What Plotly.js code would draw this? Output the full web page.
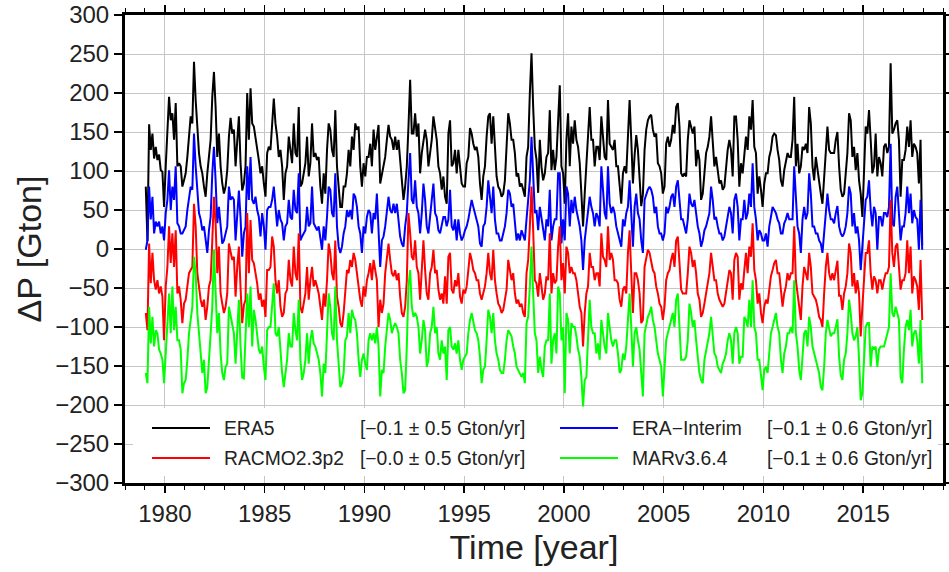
<!DOCTYPE html>
<html>
<head>
<meta charset="utf-8">
<script src="https://cdn.plot.ly/plotly-3.0.1.min.js"></script>
<style>html,body{margin:0;padding:0;background:#fff;}#chart{width:949px;height:572px;}</style>
</head>
<body>
<div id="chart"></div>
<script>
// ---- data (monthly ΔP in Gton, Jan 1979 .. Dec 2017) ----
const startYear = 1979;
const seriesNames = ["ERA5", "ERA−Interim", "RACMO2.3p2", "MARv3.6.4"];
const trendLabels = ["[−0.1 ± 0.5 Gton/yr]", "[−0.1 ± 0.6 Gton/yr]", "[−0.0 ± 0.5 Gton/yr]", "[−0.1 ± 0.6 Gton/yr]"];
const xTickLabels = ["1980", "1985", "1990", "1995", "2000", "2005", "2010", "2015"];

const era5 = [
80,10,160,127,148,116,131,114,121,101,99,54,
106,150,195,165,174,140,187,106,110,106,80,88,
97,118,148,170,161,240,191,157,123,106,97,80,
67,97,118,140,195,227,182,118,148,106,84,71,
80,101,144,168,148,153,106,140,170,110,75,84,
106,200,140,206,161,157,144,131,114,97,106,84,
67,123,131,127,157,193,161,144,118,127,106,63,
97,106,144,127,110,161,123,118,182,80,84,97,
110,144,93,110,161,118,123,114,118,80,58,97,
71,127,161,153,127,118,178,106,76,54,54,80,
80,97,127,106,144,127,161,153,157,106,80,110,
93,118,118,135,106,153,127,144,159,84,97,106,
118,140,159,144,140,127,144,127,140,114,88,63,
80,106,157,217,148,148,174,144,161,97,123,140,
153,140,106,123,140,170,153,140,106,97,76,93,
67,58,148,165,106,110,127,97,127,106,84,80,
80,110,118,155,148,135,127,131,118,84,63,93,
106,144,170,174,135,170,127,93,80,76,67,71,
88,140,174,161,140,140,123,93,97,80,84,76,
67,118,131,200,251,182,130,115,72,140,105,88,
97,118,123,178,101,127,101,118,170,210,106,97,
58,140,174,106,157,135,165,140,131,110,71,29,
71,106,131,182,140,140,106,131,131,114,170,140,
118,114,191,135,131,127,140,106,106,80,58,97,
106,97,144,191,140,84,120,146,127,97,55,70,
127,153,165,170,172,153,144,148,110,106,97,71,
80,135,144,131,140,159,148,182,187,157,97,93,
97,93,140,165,157,148,157,106,127,114,63,71,
97,123,131,144,170,140,106,118,97,84,88,76,
80,106,127,140,127,93,170,170,140,80,110,97,
118,144,127,170,153,191,131,123,71,93,76,54,
84,97,97,118,127,144,148,146,127,114,88,80,
101,114,123,118,118,140,195,106,135,97,106,131,
127,135,123,182,161,106,88,118,101,88,71,58,
88,123,157,127,123,123,123,140,150,106,76,67,
71,97,123,174,165,118,131,101,123,88,71,41,
93,157,148,178,140,97,106,148,93,118,110,93,
131,135,123,131,238,148,153,161,165,140,67,114,
114,127,157,131,165,118,135,131,123,84,140,5
];

const eraInterim = [
-1,11,80,38,67,20,35,29,35,20,29,11,
46,63,101,50,80,63,106,33,29,20,20,24,
29,50,67,80,76,148,106,80,46,38,24,29,
11,-5,24,41,97,131,88,33,54,29,7,11,
20,29,80,63,67,63,11,38,75,40,-10,20,
29,106,63,118,63,58,67,50,41,16,46,29,
-1,50,54,54,63,80,54,29,50,38,33,11,
29,33,63,41,38,76,50,46,97,11,16,20,
24,54,29,33,80,33,29,24,29,11,-1,29,
11,41,80,76,46,41,97,29,3,-5,3,20,
29,50,41,50,38,71,67,54,29,20,-5,29,
20,41,50,46,20,46,38,71,29,-23,11,16,
29,50,67,50,46,58,46,58,38,16,7,3,
29,46,88,123,63,58,88,54,46,20,46,84,
63,29,20,46,63,84,46,41,24,20,29,41,
41,29,38,76,29,24,38,11,38,20,11,16,
24,29,38,54,63,54,46,38,29,7,3,29,
33,54,88,67,46,80,38,20,20,11,11,20,
29,46,76,71,54,58,38,11,20,11,24,16,
11,38,63,88,144,97,46,50,24,54,38,29,
11,38,29,76,11,29,38,38,97,97,7,38,
11,80,71,29,63,46,67,50,38,29,11,-27,
11,29,50,67,54,46,29,46,41,29,106,71,
46,38,106,58,46,54,46,29,20,11,3,38,
29,46,54,88,46,3,54,71,46,38,11,-5,
63,71,76,80,76,67,46,54,29,20,20,11,
20,54,46,54,67,71,54,80,88,63,38,38,
29,20,38,71,58,54,63,46,29,20,3,11,
24,29,38,46,80,63,38,41,29,20,20,11,
16,29,38,54,46,20,63,71,54,11,38,38,
63,38,46,71,54,110,54,38,11,24,20,11,
11,20,3,29,41,54,50,46,38,33,20,20,
33,38,46,38,38,38,106,63,29,20,-5,38,
54,38,46,97,71,29,29,20,20,11,7,-5,
20,46,71,50,38,38,33,46,55,29,20,16,
20,29,46,80,71,29,46,20,29,11,-27,3,
29,63,67,88,50,29,54,46,-1,41,41,29,
46,46,41,54,135,33,29,67,80,41,11,29,
29,46,80,46,71,33,50,41,38,-1,63,-1
];

const racmo = [
-82,-104,7,-44,-5,-40,-52,-40,-57,-48,-61,-117,
-48,-23,29,-18,20,-23,24,-57,-48,-65,-95,-70,
-65,-48,-31,-27,-23,58,29,-31,-48,-65,-74,-65,
-91,-74,-48,-40,11,67,33,-31,3,-57,-70,-82,
-74,-57,7,-5,-14,-10,-61,-23,3,-50,-95,-72,
-65,46,-31,37,-14,-18,-31,-44,-65,-57,-74,-65,
-87,-27,-27,-23,16,3,-40,-57,-40,-74,-87,-82,
-57,-52,-14,-40,-48,3,-31,-40,20,-74,-82,-70,
-57,-23,-65,-40,-23,-48,-40,-48,-57,-74,-91,-57,
-74,-40,7,-5,-31,-40,11,-61,-74,-95,-100,-82,
-48,-27,-31,-14,-23,-5,-14,-31,-48,-65,-74,-48,
-61,-40,-31,-18,-40,-14,-27,-40,-100,-65,-82,-70,
-31,-10,7,-14,-31,-35,-27,-40,-31,-61,-82,-87,
-74,-40,46,20,-10,-14,11,-23,-31,-65,-31,11,
-27,-57,-65,-31,-23,-1,-31,-27,-52,-65,-57,-70,
-35,-70,-10,-5,-52,-57,-40,-48,-31,-61,-70,-52,
-57,-48,-27,-5,-14,-27,-31,-40,-40,-57,-65,-57,
-48,-31,-5,-31,-40,-1,-40,-57,-70,-74,-82,-78,
-65,-52,-14,-27,-40,-31,-57,-70,-65,-74,-70,-82,
-87,-31,-14,29,80,24,-40,-44,-61,-31,-48,-65,
-57,-35,-40,20,-57,-31,-44,-40,3,29,-40,-18,
-57,3,-5,-31,-23,-31,-31,-40,-57,-74,-82,-125,
-82,-57,-48,-5,-23,-23,-40,-31,-31,-48,20,-10,
-14,-23,29,-14,-5,-14,-40,-40,-44,-65,-74,-52,
-48,-57,-5,24,-31,-82,-31,-31,-40,-57,-95,-91,
-23,-10,-1,-5,-14,-27,-31,-48,-57,-70,-74,-91,
-74,-40,-31,-27,-14,-5,-23,11,16,-23,-52,-57,
-57,-57,-31,3,-5,-23,-14,-31,-57,-65,-87,-82,
-70,-57,-48,-31,-5,-23,-40,-40,-57,-65,-70,-74,
-70,-57,-40,-27,-31,-65,-14,-5,-10,-65,-44,-52,
-27,-5,-31,3,-10,33,-27,-40,-70,-57,-82,-95,
-74,-65,-70,-48,-35,-27,-18,-14,-31,-31,-57,-74,
-57,-48,-31,-40,-31,-31,29,-40,-57,-74,-91,-48,
-23,-31,-40,-5,-23,-57,-61,-65,-74,-87,-91,-100,
-57,-23,-5,-31,-40,-31,-40,-27,-15,-60,-60,-78,
-57,-48,-31,7,-5,-48,-31,-57,-40,-57,-112,-74,
-31,-5,-5,11,-31,-52,-35,-40,-57,-40,-40,-52,
-40,-31,-31,-23,63,-5,-23,3,7,-31,-52,-40,
-40,-31,11,-31,3,-57,-35,-40,-48,-78,-14,-91
];

const mar = [
-159,-172,-74,-121,-87,-125,-104,-108,-129,-134,-142,-172,
-134,-100,-57,-108,-48,-104,-74,-117,-117,-129,-185,-172,
-168,-142,-108,-91,-74,-10,-31,-82,-108,-142,-159,-142,
-185,-177,-142,-117,-74,-1,-48,-108,-82,-134,-159,-168,
-151,-147,-74,-87,-100,-108,-147,-100,-65,-125,-165,-166,
-108,-57,-100,-48,-125,-78,-91,-108,-129,-134,-125,-151,
-168,-104,-100,-100,-65,-44,-108,-112,-100,-134,-159,-177,
-155,-142,-108,-125,-125,-82,-104,-117,-65,-142,-168,-159,
-142,-108,-147,-117,-104,-121,-125,-134,-142,-159,-189,-147,
-159,-108,-57,-74,-108,-117,-48,-117,-142,-177,-172,-159,
-117,-112,-82,-108,-78,-87,-91,-108,-142,-164,-142,-134,
-147,-155,-117,-108,-117,-108,-121,-100,-125,-189,-155,-159,
-125,-100,-82,-91,-108,-100,-95,-100,-108,-142,-159,-185,
-181,-125,-48,-27,-74,-87,-82,-87,-100,-134,-117,-91,
-104,-151,-142,-108,-100,-74,-108,-100,-134,-142,-117,-134,
-125,-168,-104,-100,-125,-129,-121,-134,-117,-142,-155,-142,
-138,-134,-108,-91,-82,-95,-104,-108,-117,-138,-172,-155,
-151,-117,-78,-87,-108,-82,-117,-134,-142,-155,-159,-159,
-142,-117,-104,-108,-112,-125,-134,-151,-155,-159,-164,-159,
-172,-95,-87,-48,3,-57,-108,-117,-159,-138,-155,-164,
-125,-117,-117,-57,-147,-117,-108,-134,-48,-57,-117,-100,
-185,-82,-91,-134,-95,-100,-100,-112,-129,-138,-164,-202,
-168,-164,-108,-65,-100,-108,-108,-134,-121,-142,-91,-108,
-125,-134,-82,-100,-117,-125,-117,-117,-134,-159,-155,-134,
-142,-125,-82,-57,-100,-151,-108,-100,-117,-129,-159,-189,
-108,-95,-87,-82,-74,-91,-100,-117,-134,-142,-151,-189,
-159,-117,-108,-100,-91,-82,-100,-65,-57,-104,-142,-142,
-142,-138,-117,-70,-82,-100,-91,-117,-138,-159,-168,-172,
-142,-129,-117,-108,-87,-108,-134,-138,-151,-155,-159,-147,
-142,-134,-117,-108,-117,-147,-108,-100,-108,-147,-138,-138,
-87,-91,-100,-65,-100,-40,-100,-108,-142,-142,-159,-181,
-155,-151,-159,-134,-108,-100,-91,-82,-100,-108,-142,-159,
-134,-125,-108,-108,-100,-108,-40,-108,-125,-155,-168,-134,
-108,-104,-125,-87,-100,-125,-134,-142,-151,-159,-177,-181,
-151,-108,-91,-104,-112,-108,-108,-100,-90,-138,-162,-168,
-142,-134,-108,-65,-82,-108,-117,-112,-100,-142,-194,-185,
-134,-100,-95,-95,-151,-125,-129,-125,-151,-129,-125,-125,
-125,-117,-108,-100,-31,-82,-87,-74,-82,-91,-164,-172,
-129,-100,-91,-104,-78,-125,-108,-104,-117,-147,-91,-172
];

const seriesValues = [era5, eraInterim, racmo, mar];
const seriesColors = ["#000000", "#0000ff", "#ff0000", "#00ff00"];

// time axis: mid-month decimal years
const time = era5.map((_, i) => startYear + (i + 0.5) / 12);

const traces = seriesValues.map((vals, k) => ({
  type: "scatter",
  mode: "lines",
  name: seriesNames[k],
  x: time,
  y: vals,
  line: { color: seriesColors[k], width: 2 },
  hoverinfo: "skip"
}));

// ---- manual legend (pixel -> paper helpers) ----
const plotL = 125, plotR = 943, plotT = 15, plotB = 483;
const px = x => (x - plotL) / (plotR - plotL);
const py = y => (plotB - y) / (plotB - plotT);

const FONT = "Liberation Sans, Arial, Helvetica, sans-serif";
const legendFont = { family: FONT, size: 19.3, color: "#222" };
const rows = [428, 458];
const cols = [
  { l0: 152, l1: 210, name: 222, trend: 358 },
  { l0: 560, l1: 618, name: 630, trend: 765 }
];
// order in legend: ERA5 (r0c0), ERA-Interim (r0c1), RACMO (r1c0), MAR (r1c1)
const legendSlots = [[0, 0], [0, 1], [1, 0], [1, 1]];

const shapes = [{
  type: "rect", xref: "paper", yref: "paper", layer: "above",
  x0: px(133), x1: px(938), y0: py(476), y1: py(408),
  fillcolor: "#ffffff", line: { width: 0 }
}];
const annotations = [];
legendSlots.forEach(([r, c], k) => {
  const col = cols[c], yy = py(rows[r]);
  shapes.push({ type: "line", xref: "paper", yref: "paper", layer: "above",
    x0: px(col.l0), x1: px(col.l1), y0: yy, y1: yy,
    line: { color: seriesColors[k], width: 2 } });
  annotations.push({ xref: "paper", yref: "paper", x: px(col.name), y: yy,
    xanchor: "left", yanchor: "middle", showarrow: false,
    text: seriesNames[k], font: legendFont });
  annotations.push({ xref: "paper", yref: "paper", x: px(col.trend), y: yy,
    xanchor: "left", yanchor: "middle", showarrow: false,
    text: trendLabels[k], font: legendFont });
});

const axisFont = { family: FONT, size: 24, color: "#222" };
const titleFont = { family: FONT, size: 34, color: "#222" };

const layout = {
  width: 949, height: 572,
  margin: { l: plotL, r: 949 - plotR, t: plotT, b: 572 - plotB },
  paper_bgcolor: "#ffffff", plot_bgcolor: "#ffffff",
  showlegend: false,
  xaxis: {
    range: [1978, 2019], tickmode: "array",
    tickvals: xTickLabels.map(Number), ticktext: xTickLabels,
    ticks: "outside", ticklen: 7, tickwidth: 1.5, tickcolor: "#000",
    showline: true, linewidth: 3, linecolor: "#000", mirror: "ticks",
    showgrid: true, gridcolor: "#c6c6c6", gridwidth: 1, zeroline: false,
    tickfont: axisFont,
    minor: { dtick: 1, tick0: 1978, ticks: "outside", ticklen: 4, tickwidth: 1, tickcolor: "#000", showgrid: false },
    title: { text: "Time [year]", font: titleFont, standoff: 10 },
    automargin: false
  },
  yaxis: {
    range: [-300, 300], tickmode: "linear", tick0: -300, dtick: 50,
    ticks: "outside", ticklen: 8, tickwidth: 1.5, tickcolor: "#000",
    showline: true, linewidth: 3, linecolor: "#000", mirror: "ticks",
    showgrid: true, gridcolor: "#c6c6c6", gridwidth: 1, zeroline: false,
    tickfont: axisFont,
    title: { text: "ΔP [Gton]", font: titleFont, standoff: 4 },
    automargin: false
  },
  shapes: shapes,
  annotations: annotations
};

Plotly.newPlot("chart", traces, layout, { staticPlot: true, displayModeBar: false });
</script>
</body>
</html>
